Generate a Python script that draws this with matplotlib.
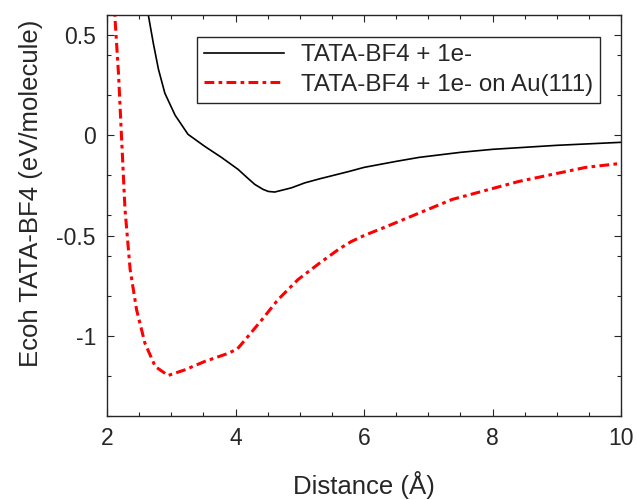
import matplotlib
matplotlib.use('Agg')
import matplotlib.pyplot as plt
from matplotlib.ticker import MultipleLocator

# distance (Angstrom) and cohesive energy (eV/molecule)
dist_free = [2.55, 2.64, 2.72, 2.80, 2.90, 3.06, 3.26, 3.52, 3.78, 4.04, 4.17, 4.30, 4.43,
             4.51, 4.61, 4.87, 5.08, 5.31, 5.77, 6.0, 6.5, 6.86, 7.5, 8.0, 9.0, 10.0]
ecoh_free = [0.9, 0.605, 0.46, 0.33, 0.21, 0.10, 0.005, -0.055, -0.11, -0.17, -0.208,
             -0.245, -0.27, -0.28, -0.283, -0.262, -0.237, -0.217, -0.18, -0.16, -0.13,
             -0.11, -0.085, -0.07, -0.05, -0.035]

dist_au = [2.05, 2.12, 2.18, 2.23, 2.28, 2.36, 2.46, 2.59, 2.75, 2.95, 3.21, 3.52, 3.89,
           4.03, 4.15, 4.41, 4.66, 4.97, 5.31, 5.47, 5.62, 5.8, 6.0, 6.35, 7.37, 8.41,
           9.45, 10.0]
ecoh_au = [1.0, 0.605, 0.30, -0.037, -0.37, -0.67, -0.87, -1.037, -1.153, -1.198, -1.17,
           -1.128, -1.087, -1.065, -1.02, -0.92, -0.82, -0.72, -0.637, -0.6, -0.565,
           -0.53, -0.5, -0.455, -0.32, -0.23, -0.16, -0.14]

labels = ['TATA-BF4 + 1e-', 'TATA-BF4 + 1e- on Au(111)']

plt.rcParams['font.family'] = ['Liberation Sans', 'DejaVu Sans']
grey = '#262626'

fig = plt.figure(figsize=(6.37, 5.0), dpi=100)
ax = fig.add_axes([0.168, 0.168, 0.807, 0.802])

ax.plot(dist_free, ecoh_free, color='black', linewidth=1.2, label=labels[0])
ax.plot(dist_au, ecoh_au, color='red', linewidth=2.2, dashes=(3.2, 1.4, 1.2, 1.4),
        label=labels[1])

ax.set_xlim(2, 10)
ax.set_ylim(-1.4, 0.6)
ax.xaxis.set_major_locator(MultipleLocator(2))
ax.xaxis.set_minor_locator(MultipleLocator(0.5))
ax.yaxis.set_minor_locator(MultipleLocator(0.2))
ax.set_yticks([-1, -0.5, 0, 0.5])
ax.set_yticklabels(['-1', '-0.5', '0', '0.5'])

ax.tick_params(which='both', direction='in', top=True, right=True, colors=grey,
               labelsize=16.5, width=0.8)
ax.tick_params(which='major', length=5, pad=8)
ax.tick_params(which='minor', length=3)
for s in ax.spines.values():
    s.set_color(grey)
    s.set_linewidth(1.0)

ax.set_xlabel('Distance (Å)', fontsize=18.5, color=grey, labelpad=15)
ax.set_ylabel('Ecoh TATA-BF4 (eV/molecule)', fontsize=18.5, color=grey, labelpad=10)
ax.yaxis.label.set_y(0.556)  # label sits a bit above the axes centre

leg = ax.legend(loc='upper right', bbox_to_anchor=(0.959, 0.945), borderaxespad=0,
                fontsize=17.4, fancybox=False, framealpha=1, edgecolor=grey,
                handlelength=3.3, handletextpad=0.7, labelspacing=0.3,
                borderpad=0.3)
leg.get_frame().set_linewidth(1.0)
for t in leg.get_texts():
    t.set_color(grey)

plt.savefig('out.png', dpi=100)
